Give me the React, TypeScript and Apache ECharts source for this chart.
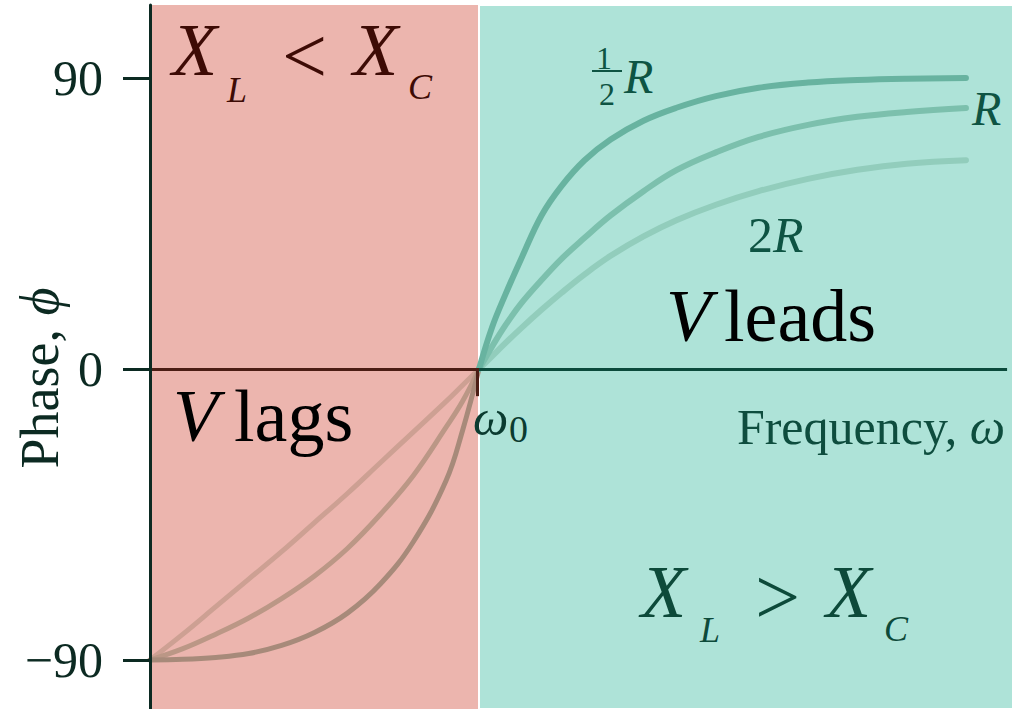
import React, { useEffect, useRef } from "react";
import * as echarts from "echarts";

// Normalised frequency ω/ω0 (resonance at 1) and phase φ in degrees.
const omega0 = 1;
const omegaEnd = 2.623;
const zeroLineEnd = 2.605;
const yMin = -105.15;
const yMax = 112.58;
const phaseTicks = [-90, 0, 90];
const resonanceTickDepth = -8.4;

// Below resonance (V lags)
const lagOmega = [0, 0.1, 0.2, 0.3, 0.4, 0.5, 0.6, 0.7, 0.8, 0.9, 0.95, 1.0];
const lagHalfR = [-90, -89.8, -89.2, -88, -85.5, -81.5, -75.5, -66.5, -53.5, -34.5, -19, 0];
const lagR = [-90, -86.5, -82, -77, -71, -64, -55.5, -45, -33, -18, -10, 0];
const lag2R = [-90, -82, -73.5, -65, -56.5, -47.5, -38.5, -29, -19.5, -10, -5, 0];

// Above resonance (V leads)
const leadOmega = [1.0, 1.04, 1.08, 1.13, 1.19, 1.25, 1.32, 1.4, 1.5, 1.6, 1.72, 1.85, 2.0, 2.15, 2.3, 2.48];
const leadHalfR = [0, 13, 23, 34.5, 47.5, 56.5, 64.5, 71, 76.8, 80.8, 84.4, 87, 88.6, 89.4, 89.8, 90];
const leadR = [0, 7, 13.5, 20.5, 27.5, 34, 40.5, 47.5, 55, 61.5, 67, 71.8, 75.5, 78, 79.5, 80.7];
const lead2R = [0, 4, 8, 12.8, 18.3, 23.5, 29.2, 35, 41, 46, 50.8, 55, 58.8, 61.6, 63.5, 64.6];

const SERIF = '"Liberation Serif", "Times New Roman", serif';

const pair = (xs: number[], ys: number[]) => xs.map((x, i) => [x, ys[i]]);

function curve(name: string, xs: number[], ys: number[], color: string, width: number) {
  return {
    name,
    type: "line",
    data: pair(xs, ys),
    smooth: 0.4,
    showSymbol: false,
    symbol: "none",
    lineStyle: { color, width, cap: "round" },
    z: 5,
  };
}

function txt(text: string, x: number, y: number, size: number, color: string, italic = true, align = "left") {
  return {
    type: "text",
    x,
    y,
    z: 20,
    style: {
      text,
      font: `${italic ? "italic " : ""}${size}px ${SERIF}`,
      fill: color,
      align,
      textAlign: align,
      verticalAlign: "middle",
      textVerticalAlign: "middle",
    },
  };
}

export default function App() {
  const ref = useRef<HTMLDivElement>(null);

  useEffect(() => {
    if (!ref.current) return;
    const chart = echarts.init(ref.current, null, { renderer: "svg" });

    const lagInk = "#3d0b05";
    const leadInk = "#0d4a3a";
    const axisInk = "#0c2a22";

    chart.setOption({
      animation: false,
      backgroundColor: "#ffffff",
      grid: {
        left: 150,
        right: 10,
        top: 5,
        bottom: 0,
        containLabel: false,
        outerBoundsMode: "none",
      },
      xAxis: {
        type: "value",
        min: 0,
        max: omegaEnd,
        show: false,
        splitLine: { show: false },
      },
      yAxis: {
        type: "value",
        min: yMin,
        max: yMax,
        z: 10,
        axisLine: { show: true, onZero: false, lineStyle: { color: axisInk, width: 3 } },
        axisTick: {
          show: true,
          customValues: phaseTicks,
          length: 27,
          lineStyle: { color: axisInk, width: 3 },
        },
        axisLabel: {
          show: true,
          customValues: phaseTicks,
          margin: 47,
          fontFamily: SERIF,
          fontSize: 50,
          color: axisInk,
          formatter: (v: number) => (v < 0 ? "\u2212" + Math.abs(v) : String(v)),
        },
        splitLine: { show: false },
      },
      series: [
        {
          name: "regions",
          type: "line",
          data: [],
          markArea: {
            silent: true,
            data: [
              [
                { xAxis: 0, itemStyle: { color: "#ecb5ae" } },
                { xAxis: omega0 },
              ],
              [
                { xAxis: omega0, itemStyle: { color: "#aee3d8", borderColor: "#ffffff", borderWidth: 2 } },
                { xAxis: omegaEnd },
              ],
            ],
          },
          markLine: {
            silent: true,
            symbol: "none",
            label: { show: false },
            z: 6,
            data: [
              [
                { coord: [0, 0], lineStyle: { color: "#4b1d14", width: 3, type: "solid" } },
                { coord: [omega0, 0] },
              ],
              [
                { coord: [omega0, 0], lineStyle: { color: "#0b4a3b", width: 3, type: "solid" } },
                { coord: [zeroLineEnd, 0] },
              ],
              [
                { coord: [omega0 - 0.004, 0], lineStyle: { color: "#4b1d14", width: 3, type: "solid" } },
                { coord: [omega0 - 0.004, resonanceTickDepth] },
              ],
            ],
          },
        },
        curve("lag 2R", lagOmega, lag2R, "#cda093", 5),
        curve("lag R", lagOmega, lagR, "#bb9786", 5),
        curve("lag R/2", lagOmega, lagHalfR, "#a78a7a", 5),
        curve("lead 2R", leadOmega, lead2R, "#92cdbc", 6),
        curve("lead R", leadOmega, leadR, "#7cc0ad", 6),
        curve("lead R/2", leadOmega, leadHalfR, "#68b3a0", 6),
      ],
      graphic: [
        // axis titles
        {
          type: "text",
          x: 40,
          y: 378,
          rotation: Math.PI / 2,
          z: 20,
          style: {
            text: "Phase, {i|ϕ}",
            font: `54px ${SERIF}`,
            fill: axisInk,
            align: "center",
            verticalAlign: "middle",
            rich: { i: { fontFamily: SERIF, fontStyle: "italic", fontSize: 54, fill: axisInk } },
          },
        },
        {
          type: "text",
          x: 1005,
          y: 427,
          z: 20,
          style: {
            text: "Frequency, {i|ω}",
            font: `50px ${SERIF}`,
            fill: "#0e4d3e",
            align: "right",
            verticalAlign: "middle",
            rich: { i: { fontFamily: SERIF, fontStyle: "italic", fontSize: 50, fill: "#0e4d3e" } },
          },
        },
        // resonance label
        txt("ω", 473, 418, 50, "#0b3b30"),
        txt("0", 509, 429, 38, "#0b3b30", false),
        // region captions
        txt("V", 173, 416, 74, "#000000"),
        txt("lags", 234, 416, 74, "#000000", false),
        txt("V", 666, 316, 74, "#000000"),
        txt("leads", 724, 316, 74, "#000000", false),
        // X_L < X_C
        txt("X", 172, 50, 74, lagInk),
        txt("L", 227, 90, 36, lagInk),
        txt("<", 282, 56, 80, lagInk, false),
        txt("X", 353, 50, 74, lagInk),
        txt("C", 408, 87, 36, lagInk),
        // X_L > X_C
        txt("X", 641, 592, 74, leadInk),
        txt("L", 700, 630, 36, leadInk),
        txt(">", 755, 597, 80, leadInk, false),
        txt("X", 826, 592, 74, leadInk),
        txt("C", 884, 629, 36, leadInk),
        // resistance labels
        txt("1", 604, 58, 32, "#0e5443", false, "center"),
        { type: "line", z: 20, shape: { x1: 592, y1: 71, x2: 622, y2: 71 }, style: { stroke: "#0e5443", lineWidth: 2 } },
        txt("2", 607, 94, 32, "#0e5443", false, "center"),
        txt("R", 624, 76, 48, "#0e5443"),
        txt("R", 972, 108, 48, "#0e5443"),
        txt("2", 748, 235, 50, "#0e5443", false),
        txt("R", 773, 235, 50, "#0e5443"),
      ],
    });

    return () => chart.dispose();
  }, []);

  return (
    <div
      ref={ref}
      style={{ position: "fixed", left: 0, top: 0, width: 1023, height: 709, background: "#fff" }}
    />
  );
}
